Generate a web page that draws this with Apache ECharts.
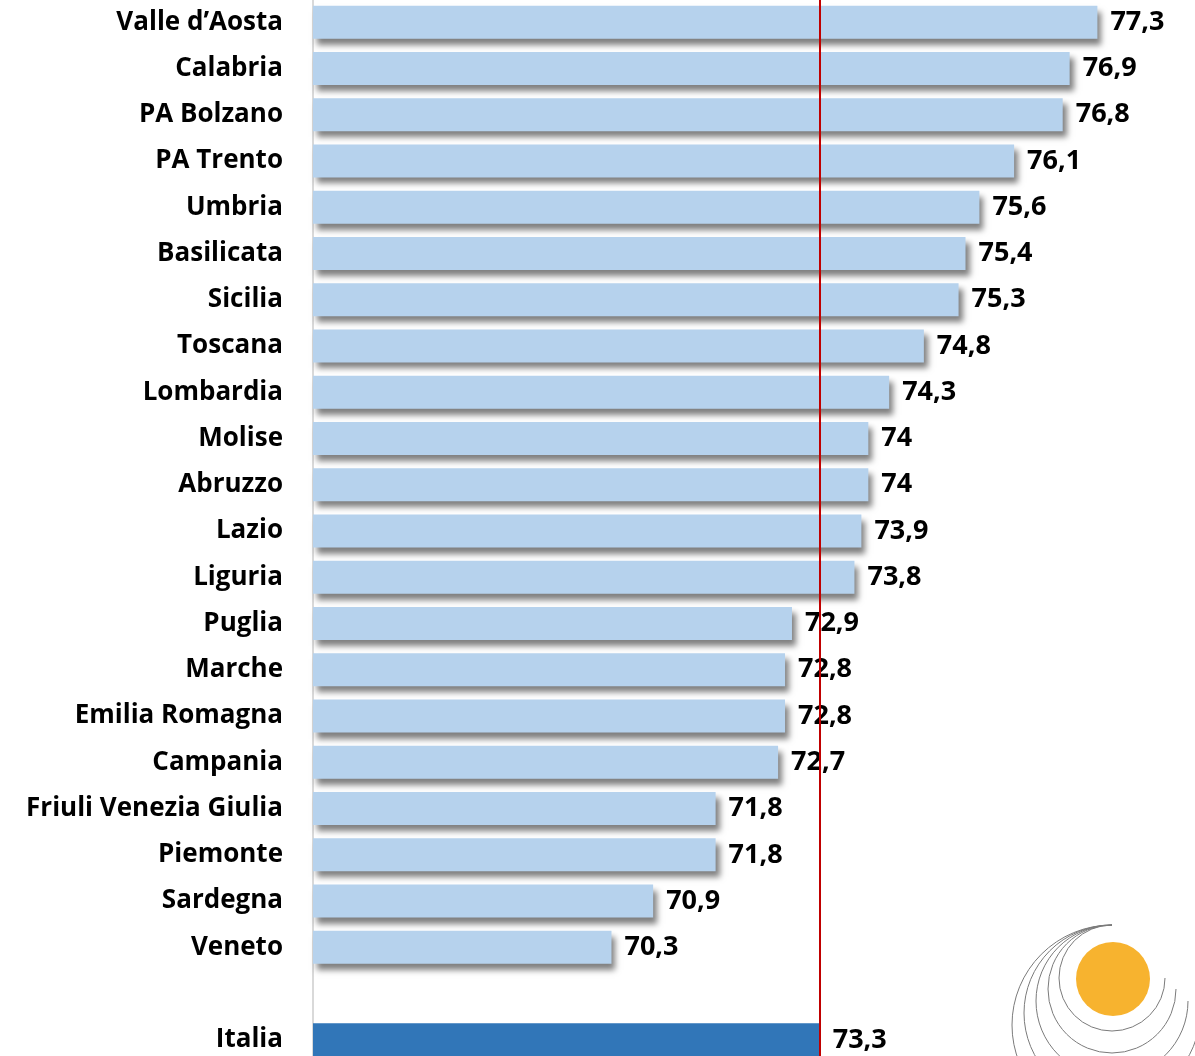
<!DOCTYPE html>
<html>
<head>
<meta charset="utf-8">
<script src="https://cdn.jsdelivr.net/npm/echarts@6/dist/echarts.min.js"></script>
<style>
  html, body { margin: 0; padding: 0; background: #fff; }
  #chart { width: 1195px; height: 1056px; }
</style>
</head>
<body>
<div id="chart"></div>
<script>
const regions = [
  "Valle d\u2019Aosta", "Calabria", "PA Bolzano", "PA Trento", "Umbria",
  "Basilicata", "Sicilia", "Toscana", "Lombardia", "Molise", "Abruzzo",
  "Lazio", "Liguria", "Puglia", "Marche", "Emilia Romagna", "Campania",
  "Friuli Venezia Giulia", "Piemonte", "Sardegna", "Veneto", "", "Italia"
];
const values = [
  77.3, 76.9, 76.8, 76.1, 75.6, 75.4, 75.3, 74.8, 74.3, 74, 74,
  73.9, 73.8, 72.9, 72.8, 72.8, 72.7, 71.8, 71.8, 70.9, 70.3, null, 73.3
];
const italiaValue = 73.3;

const chart = echarts.init(document.getElementById("chart"));
const font = "'Open Sans', sans-serif";

const barData = values.map((v, i) => ({
  value: v,
  itemStyle: regions[i] === "Italia"
    ? { color: "#3176b8", shadowColor: "rgba(0,0,0,0)" }
    : {}
}));

// logo in basso a destra
const arcs = [53, 64, 76, 88, 100].map((r) => ({
  type: "arc",
  silent: true,
  shape: { cx: 1112, cy: 925 + r, r: r, startAngle: 0, endAngle: Math.PI * 1.5, clockwise: true },
  style: { stroke: "#7a7a7a", lineWidth: 1, fill: null }
}));

chart.setOption({
  animation: false,
  grid: { left: 313, top: -1, width: 833, height: 1064, outerBoundsMode: "none", containLabel: false },
  xAxis: {
    type: "value",
    min: 66,
    max: 78,
    show: false
  },
  yAxis: {
    type: "category",
    data: regions,
    inverse: true,
    axisLine: { show: true, lineStyle: { color: "#d9d9d9", width: 2 } },
    axisTick: { show: false },
    axisLabel: {
      margin: 30,
      color: "#000",
      fontFamily: font,
      fontWeight: "bold",
      fontSize: 26,
      padding: [4, 0, 0, 0]
    }
  },
  series: [{
    type: "bar",
    data: barData,
    barWidth: 33,
    itemStyle: {
      color: "#b6d2ed",
      shadowColor: "rgba(0,0,0,0.5)",
      shadowBlur: 6,
      shadowOffsetX: 4,
      shadowOffsetY: 6
    },
    label: {
      show: true,
      position: "right",
      distance: 13,
      color: "#000",
      fontFamily: font,
      fontWeight: "bold",
      fontSize: 27,
      padding: [4, 0, 0, 0],
      formatter: (p) => String(p.value).replace(".", ",")
    },
    markLine: {
      silent: true,
      symbol: "none",
      label: { show: false },
      lineStyle: { color: "#c00000", width: 2, type: "solid" },
      data: [{ xAxis: italiaValue }]
    }
  }],
  graphic: arcs.concat([{
    type: "circle",
    silent: true,
    shape: { cx: 1113, cy: 979, r: 37 },
    style: { fill: "#f7b32f" }
  }])
});
</script>
</body>
</html>
